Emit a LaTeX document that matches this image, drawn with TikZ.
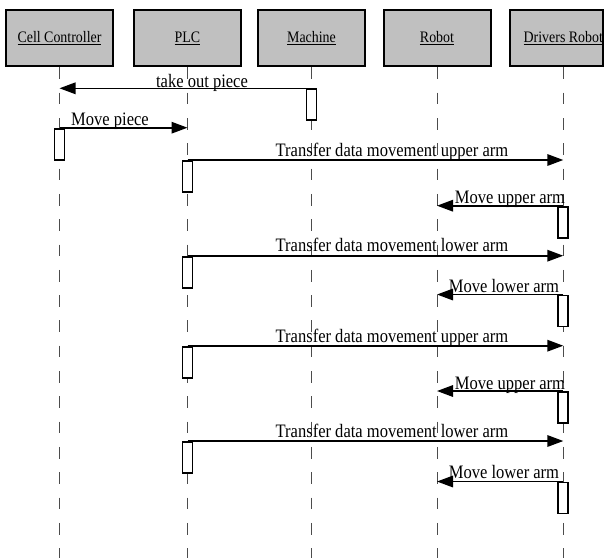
\documentclass[tikz,border=0pt]{standalone}
\usepackage{fontspec}
\setmainfont{Liberation Serif}[FakeStretch=0.87]
\usetikzlibrary{arrows.meta}
\definecolor{headgray}{RGB}{192,192,192}
\newcommand\myul[1]{\setbox0\hbox{#1}\rlap{\rule[-2.4pt]{\wd0}{1.3pt}}\box0}
\begin{document}
\begin{tikzpicture}[x=1pt,y=-1pt,
  head/.style={draw, line width=2pt, fill=headgray, minimum width=107pt, minimum height=56pt, inner sep=0pt, font=\fontsize{16}{18}\selectfont},
  headtext/.style={inner sep=0pt, font=\fontsize{16}{18}\selectfont},
  lifeline/.style={draw=black!70, line width=0.8pt, dash pattern=on 11.7pt off 13.6pt},
  msg/.style={line width=1.6pt, -{Triangle[length=16pt,width=11.5pt]}},
  act/.style={draw, line width=1.9pt, fill=white, minimum width=10pt, minimum height=31pt, inner sep=0pt, anchor=north},
  lbl/.style={anchor=base, inner sep=0pt, font=\fontsize{19}{21}\selectfont}]
\useasboundingbox (0,0) rectangle (615,558);
% heads
\node[head] (cc) at (59.5,38.4) {\myul{Cell Controller}};
\node[head] (plc) at (187.5,38.4) {\myul{PLC}};
\node[head] (mach) at (311.5,38.4) {\myul{Machine}};
\node[head] (rob) at (437,38.4) {\myul{Robot}};
\node[head, minimum width=93pt] (dr) at (556.5,38.4) {};
\node[headtext] (drt) at (563.3,38.4) {\myul{Drivers Robot}};
% lifeline tops
\coordinate (lCC) at (cc.south);
\coordinate (lPLC) at (plc.south);
\coordinate (lM) at (mach.south);
\coordinate (lR) at (rob.south);
\coordinate (lDR) at (563.3,67.4);
\coordinate (bottom) at (0,558);
\foreach \l in {lCC,lPLC,lM,lR,lDR}{
  \draw[lifeline] (\l) -- (\l |- bottom);
}
% rows
\coordinate (r1) at (0,88.3);
\coordinate (r2) at (0,127.7);
\coordinate (r3) at (0,160);
\coordinate (r4) at (0,205.7);
\coordinate (r5) at (0,255.7);
\coordinate (r6) at (0,294.5);
\coordinate (r7) at (0,345.7);
\coordinate (r8) at (0,391);
\coordinate (r9) at (0,441);
\coordinate (r10) at (0,481.5);
% messages
\draw[msg] (lM |- r1) -- (lCC |- r1);
\draw[msg] (lCC |- r2) -- (lPLC |- r2);
\draw[msg] (lPLC |- r3) -- (lDR |- r3);
\draw[msg] (lDR |- r4) -- (lR |- r4);
\draw[msg] (lPLC |- r5) -- (lDR |- r5);
\draw[msg] (lDR |- r6) -- (lR |- r6);
\draw[msg] (lPLC |- r7) -- (lDR |- r7);
\draw[msg] (lDR |- r8) -- (lR |- r8);
\draw[msg] (lPLC |- r9) -- (lDR |- r9);
\draw[msg] (lDR |- r10) -- (lR |- r10);
% activations
\node[act] (a1) at (lM |- r1) {};
\node[act] (a2) at (lCC |- r2) {};
\node[act] (a3) at (lPLC |- r3) {};
\node[act] (a4) at (lDR |- r4) {};
\node[act] (a5) at (lPLC |- r5) {};
\node[act] (a6) at (lDR |- r6) {};
\node[act] (a7) at (lPLC |- r7) {};
\node[act] (a8) at (lDR |- r8) {};
\node[act] (a9) at (lPLC |- r9) {};
\node[act] (a10) at (lDR |- r10) {};
% labels
\node[lbl] (t1) at (202,87.5) {take out piece};
\node[lbl] (t2) at (110,125.5) {Move piece};
\node[lbl] (t3) at (392,156.7) {Transfer data movement upper arm};
\node[lbl] (t4) at (510,203.3) {Move upper arm};
\node[lbl] (t5) at (392,251.7) {Transfer data movement lower arm};
\node[lbl] (t6) at (504,292.7) {Move lower arm};
\node[lbl] (t7) at (392,342.7) {Transfer data movement upper arm};
\node[lbl] (t8) at (510,389.3) {Move upper arm};
\node[lbl] (t9) at (392,437.7) {Transfer data movement lower arm};
\node[lbl] (t10) at (504,478.5) {Move lower arm};
\end{tikzpicture}
\end{document}
